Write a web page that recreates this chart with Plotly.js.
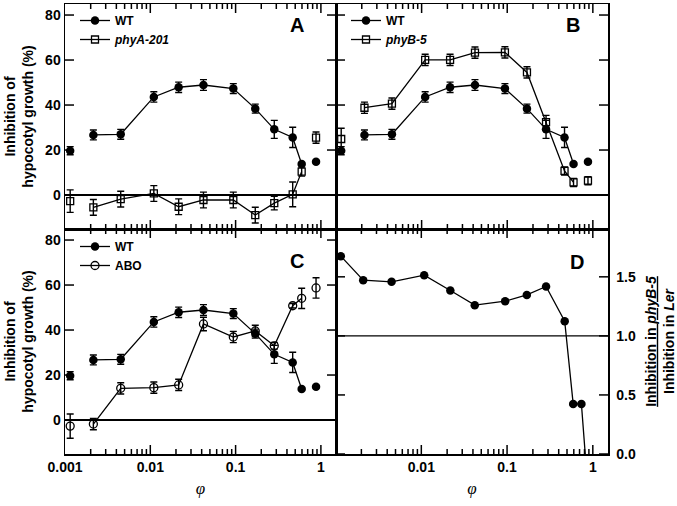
<!DOCTYPE html>
<html>
<head>
<meta charset="utf-8">
<script src="https://cdn.plot.ly/plotly-3.0.1.min.js"></script>
<style>html,body{margin:0;padding:0;background:#fff;}#chart{width:677px;height:506px;}</style>
</head>
<body>
<div id="chart"></div>
<script>
// ---- data ----
const phi = [0.00115, 0.00215, 0.0045, 0.011, 0.0215, 0.042, 0.094, 0.17, 0.284, 0.467, 0.595, 0.877];

const wt      = [19.7, 26.7, 27.0, 43.6, 47.9, 48.9, 47.3, 38.4, 29.2, 25.6, 13.8, 14.8];
const wtErr   = [1.8, 2.2, 2.2, 2.3, 2.3, 2.4, 2.2, 2.0, 4.0, 4.5, 0, 0];

const phyA    = [-2.7, -5.5, -1.8, 0.7, -5.2, -2.2, -2.2, -8.9, -3.6, 0.3, 10.4, 25.5];
const phyAErr = [5.0, 3.5, 3.5, 3.5, 3.5, 3.5, 3.5, 3.5, 3.0, 5.5, 2.0, 2.5];

const phyB    = [24.9, 38.8, 40.6, 60.1, 60.1, 63.3, 63.4, 54.5, 32.4, 10.7, 5.6, 6.4];
const phyBErr = [4.8, 2.5, 2.5, 2.5, 2.5, 2.5, 2.5, 2.5, 3.0, 1.8, 1.8, 1.8];

const abo     = [-2.7, -1.8, 14.1, 14.4, 15.6, 42.7, 36.9, 39.6, 33.0, 50.8, 54.1, 58.7];
const aboErr  = [5.4, 2.5, 2.5, 2.5, 2.5, 3.0, 2.5, 2.5, 1.5, 1.0, 4.5, 4.5];

const phiD    = [0.00115, 0.0021, 0.0045, 0.0108, 0.0218, 0.042, 0.095, 0.17, 0.285, 0.47, 0.59, 0.736, 0.877];
const ratioD  = [1.675, 1.472, 1.458, 1.514, 1.384, 1.260, 1.294, 1.347, 1.418, 1.124, 0.424, 0.424, -0.3];

const xMajorTicks = [0.001, 0.01, 0.1, 1];
const yMajorTicks = [0, 20, 40, 60, 80];
const dMajorTicks = [0, 0.5, 1.0, 1.5];
const dRefLine = 1.0;

// ---- axis ranges ----
const XR = [-3, 0.177];           // log10 range of every x axis
const XR4 = [-2.995, 0.177];
const YR = [-15.1, 84.9];
const DR = [0, 1.905];

// ---- helpers ----
const FONT = 'Liberation Sans, Arial, sans-serif';
const pick = (arr, idx) => idx.map(i => arr[i]);
const inner = [1,2,3,4,5,6,7,8,9,10];
const ends = [0, 11];

function series(name, y, err, sym, xa, ya, leg) {
  const marker = sym === 'filled'
    ? {symbol: 'circle', size: 8.5, color: '#000', line: {width: 0}}
    : sym === 'square'
      ? {symbol: 'square-open', size: 7, color: '#000', line: {width: 1.3}}
      : {symbol: 'circle-open', size: 8, color: '#000', line: {width: 1.3}};
  const eb = a => ({type: 'data', array: a, visible: true, color: '#000', thickness: 1.4, width: 3.5});
  return [
    {x: pick(phi, inner), y: pick(y, inner), error_y: eb(pick(err, inner)), mode: 'lines+markers',
     name: name, marker: marker, line: {color: '#000', width: 1.3}, xaxis: xa, yaxis: ya, legend: leg,
     cliponaxis: false},
    {x: pick(phi, ends), y: pick(y, ends), error_y: eb(pick(err, ends)), mode: 'markers',
     name: name, marker: marker, showlegend: false, xaxis: xa, yaxis: ya, cliponaxis: false}
  ];
}

const W = 677, H = 506;
const xL = 65 / W, xM = 336 / W, xR = 608 / W;
const yT = 1 - 4 / H, yMid = 1 - 229 / H, yB = 1 - 454 / H;
const PANEL_W = 271, PANEL_H = 225;   // pixel size of each panel

// ---- tick marks as line traces on each panel's own axes (inside, all four sides) ----
const minorTicks = [];
for (let d = -3; d <= -1; d++) for (let k = 2; k <= 9; k++) minorTicks.push(k * Math.pow(10, d));

function tickTrace(xa, ya, xr, yr, yVals) {
  const xs = [], ys = [];
  const yPerPx = (yr[1] - yr[0]) / PANEL_H;
  const xPerPx = (xr[1] - xr[0]) / PANEL_W;
  const addX = (v, len) => {
    if (Math.log10(v) < xr[0] + 1e-6) return;
    xs.push(v, v, null, v, v, null);
    ys.push(yr[0], yr[0] + len * yPerPx, null, yr[1], yr[1] - len * yPerPx, null);
  };
  xMajorTicks.forEach(v => addX(v, 9));
  minorTicks.forEach(v => addX(v, 5));
  const xLeft = Math.pow(10, xr[0]), xLeftIn = Math.pow(10, xr[0] + 9 * xPerPx);
  const xRight = Math.pow(10, xr[1]), xRightIn = Math.pow(10, xr[1] - 9 * xPerPx);
  yVals.forEach(v => {
    xs.push(xLeft, xLeftIn, null, xRight, xRightIn, null);
    ys.push(v, v, null, v, v, null);
  });
  return {x: xs, y: ys, mode: 'lines', line: {color: '#000', width: 1.5}, connectgaps: false,
    xaxis: xa, yaxis: ya, showlegend: false, hoverinfo: 'skip'};
}

const traces = [].concat(
  [tickTrace('x', 'y', XR, YR, yMajorTicks),
   tickTrace('x2', 'y2', XR, YR, yMajorTicks),
   tickTrace('x3', 'y3', XR, YR, yMajorTicks),
   tickTrace('x4', 'y4', XR4, DR, dMajorTicks)],
  series('<b>WT</b>', wt, wtErr, 'filled', 'x', 'y', 'legend'),
  series('<b><i>phyA-201</i></b>', phyA, phyAErr, 'square', 'x', 'y', 'legend'),
  series('<b>WT</b>', wt, wtErr, 'filled', 'x2', 'y2', 'legend2'),
  series('<b><i>phyB-5</i></b>', phyB, phyBErr, 'square', 'x2', 'y2', 'legend2'),
  series('<b>WT</b>', wt, wtErr, 'filled', 'x3', 'y3', 'legend3'),
  series('<b>ABO</b>', abo, aboErr, 'open', 'x3', 'y3', 'legend3'),
  [{x: phiD, y: ratioD, mode: 'lines+markers', marker: {symbol: 'circle', size: 8.5, color: '#000'},
    line: {color: '#000', width: 1.3}, xaxis: 'x4', yaxis: 'y4', showlegend: false}]
);

const tickFont = {family: FONT, size: 14, color: '#000', weight: 'bold'};
const axStyle = {ticks: '', showline: true, linecolor: '#000', linewidth: 1.5, mirror: true, showgrid: false, fixedrange: true};

function xAxis(domain, anchor, labels, range) {
  const ax = Object.assign({}, axStyle, {
    type: 'log', range: range, domain: domain, anchor: anchor,
    tickmode: 'linear', tick0: 0, dtick: 1, exponentformat: 'none',
    showticklabels: labels, tickfont: tickFont, zeroline: false
  });
  if (labels) ax.title = {text: 'φ', font: {family: 'Liberation Serif, serif', size: 17, style: 'italic', color: '#000'}, standoff: 8};
  return ax;
}

function yAxis(domain, anchor, labels) {
  const ax = Object.assign({}, axStyle, {
    range: YR, domain: domain, anchor: anchor,
    tickmode: 'linear', tick0: 0, dtick: 20, showticklabels: labels, tickfont: tickFont,
    zeroline: true, zerolinecolor: '#000', zerolinewidth: 1.2
  });
  if (labels) ax.title = {text: 'Inhibition of<br>hypocotyl growth (%)', font: {family: FONT, size: 14, weight: 'bold', color: '#000'}, standoff: 8};
  return ax;
}

const legendBase = {font: {family: FONT, size: 12, color: '#000', weight: 'bold'}, bgcolor: 'rgba(0,0,0,0)',
  itemwidth: 30, tracegroupgap: 0, yanchor: 'top', xanchor: 'left', traceorder: 'normal'};

const layout = {
  width: W, height: H, margin: {l: 0, r: 0, t: 0, b: 0},
  paper_bgcolor: '#fff', plot_bgcolor: '#fff', showlegend: true,
  font: {family: FONT, color: '#000'},
  xaxis: xAxis([xL, xM], 'y', false, XR),
  yaxis: yAxis([yMid, yT], 'x', true),
  xaxis2: xAxis([xM, xR], 'y2', false, XR),
  yaxis2: yAxis([yMid, yT], 'x2', false),
  xaxis3: xAxis([xL, xM], 'y3', true, XR),
  yaxis3: yAxis([yB, yMid], 'x3', true),
  xaxis4: xAxis([xM, xR], 'y4', true, XR4),
  yaxis4: Object.assign({}, axStyle, {
    range: DR, domain: [yB, yMid], anchor: 'x4', side: 'right',
    tickmode: 'linear', tick0: 0, dtick: 0.5, tickformat: '.1f', tickfont: tickFont, ticklabelstandoff: 4,
    zeroline: false,
    title: {text: "<span style='text-decoration:underline'>Inhibition in <i>phyB-5</i></span><br>Inhibition in <i>Ler</i>",
            font: {family: FONT, size: 14, weight: 'bold', color: '#000'}, standoff: 18}
  }),
  legend: Object.assign({}, legendBase, {x: 75 / W, y: 1 - 6 / H}),
  legend2: Object.assign({}, legendBase, {x: 346 / W, y: 1 - 6 / H}),
  legend3: Object.assign({}, legendBase, {x: 75 / W, y: 1 - 232 / H}),
  shapes: [
    {type: 'line', xref: 'x4 domain', yref: 'y4', x0: 0, x1: 1, y0: dRefLine, y1: dRefLine, line: {color: '#000', width: 1.2}}
  ],
  annotations: [
    {text: '<b>A</b>', xref: 'x domain', yref: 'y domain', x: 0.856, y: 0.907, xanchor: 'center', yanchor: 'middle', showarrow: false, font: {family: FONT, size: 20, color: '#000'}},
    {text: '<b>B</b>', xref: 'x2 domain', yref: 'y2 domain', x: 0.871, y: 0.907, xanchor: 'center', yanchor: 'middle', showarrow: false, font: {family: FONT, size: 20, color: '#000'}},
    {text: '<b>C</b>', xref: 'x3 domain', yref: 'y3 domain', x: 0.856, y: 0.858, xanchor: 'center', yanchor: 'middle', showarrow: false, font: {family: FONT, size: 20, color: '#000'}},
    {text: '<b>D</b>', xref: 'x4 domain', yref: 'y4 domain', x: 0.886, y: 0.853, xanchor: 'center', yanchor: 'middle', showarrow: false, font: {family: FONT, size: 20, color: '#000'}}
  ]
};

Plotly.newPlot('chart', traces, layout, {displayModeBar: false, staticPlot: true});
</script>
</body>
</html>
